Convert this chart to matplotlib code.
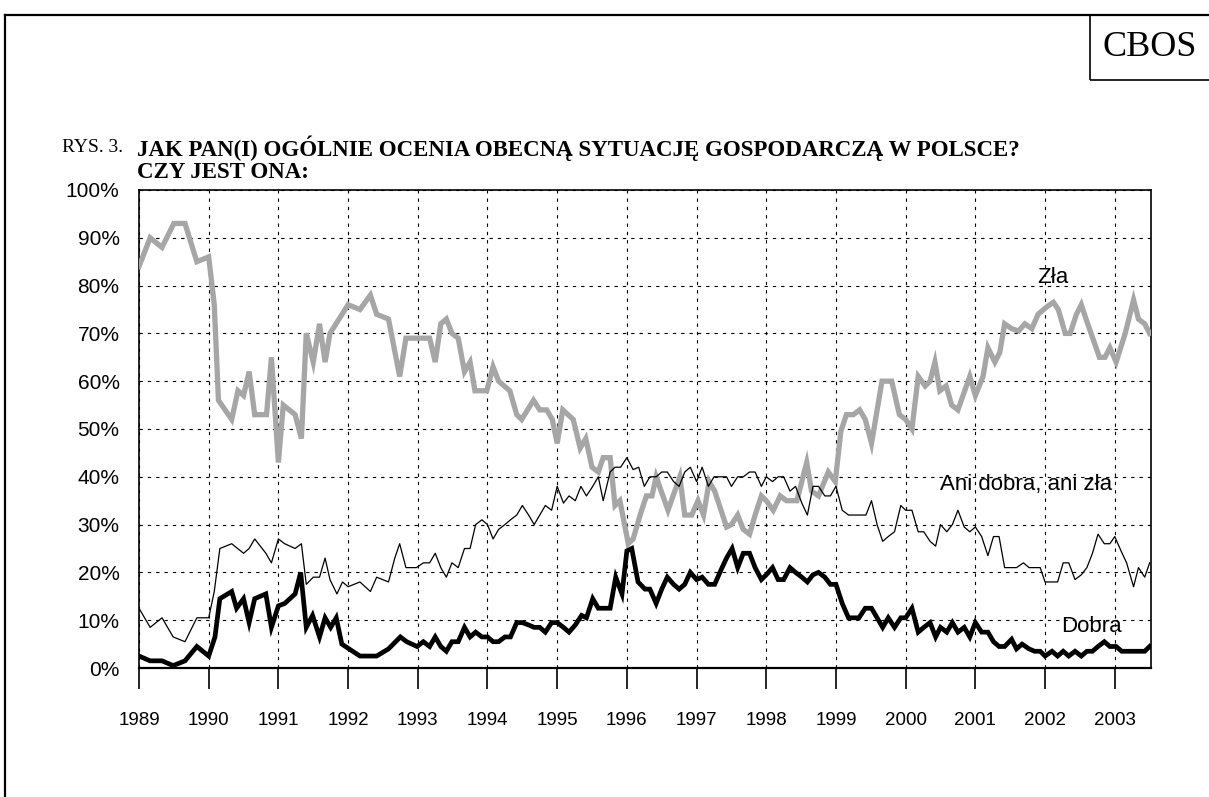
import numpy as np
import matplotlib
matplotlib.use("Agg")
import matplotlib.pyplot as plt
from matplotlib.lines import Line2D
from matplotlib.patches import Rectangle

# dane (rok dziesietny, %)
zla_x = [1989.0, 1989.16, 1989.33, 1989.5, 1989.66, 1989.83, 1990.0, 1990.08, 1990.14,
         1990.33, 1990.42, 1990.5, 1990.58, 1990.66, 1990.83, 1990.9, 1991.0, 1991.07,
         1991.24, 1991.33, 1991.4, 1991.5, 1991.59, 1991.67, 1991.74, 1992.0, 1992.17,
         1992.32, 1992.41, 1992.58, 1992.74, 1992.83, 1993.17, 1993.25, 1993.33, 1993.41,
         1993.49, 1993.58, 1993.67, 1993.75, 1993.82, 1993.99, 1994.08, 1994.16, 1994.32,
         1994.42, 1994.49, 1994.66, 1994.75, 1994.85, 1994.93, 1995.0, 1995.08, 1995.23,
         1995.33, 1995.41, 1995.5, 1995.59, 1995.66, 1995.76, 1995.83, 1995.9, 1996.02,
         1996.09, 1996.19, 1996.28, 1996.36, 1996.42, 1996.59, 1996.76, 1996.83, 1996.93,
         1997.02, 1997.1, 1997.18, 1997.26, 1997.43, 1997.5, 1997.59, 1997.67, 1997.76,
         1997.84, 1997.93, 1998.0, 1998.1, 1998.2, 1998.29, 1998.44, 1998.58, 1998.65,
         1998.75, 1998.89, 1998.99, 1999.07, 1999.15, 1999.25, 1999.34, 1999.42, 1999.51,
         1999.66, 1999.8, 1999.91, 2000.0, 2000.09, 2000.18, 2000.28, 2000.35, 2000.42,
         2000.49, 2000.58, 2000.66, 2000.75, 2000.92, 2001.0, 2001.11, 2001.18, 2001.28,
         2001.35, 2001.42, 2001.52, 2001.62, 2001.71, 2001.81, 2001.9, 2002.02, 2002.12,
         2002.19, 2002.29, 2002.36, 2002.45, 2002.52, 2002.6, 2002.78, 2002.86, 2002.93,
         2003.02, 2003.15, 2003.27, 2003.34, 2003.43, 2003.5]
zla_y = [84, 90, 88, 93, 93, 85, 86, 76, 56,
         52, 58, 57, 62, 53, 53, 65, 43, 55,
         53, 48, 70, 64, 72, 64, 70, 76, 75,
         78, 74, 73, 61, 69, 69, 64, 72, 73,
         70, 69, 62, 64, 58, 58, 63, 60, 58,
         53, 52, 56, 54, 54, 52, 47, 54, 52,
         46, 48, 42, 41, 44, 44, 34, 35, 26,
         27, 32, 36, 36, 40, 33, 40, 32, 32,
         35, 32, 39, 37, 29.5, 30, 32, 29, 28,
         32, 36, 35, 33, 36, 35, 35, 43, 37,
         36, 41, 39, 49.5, 53, 53, 54, 52, 47,
         60, 60, 53, 52, 50, 61, 59, 60, 64,
         58, 59, 55, 54, 61, 57, 61, 67, 64,
         66, 72, 71, 70.5, 72, 71, 74, 75.5, 76.5,
         75, 70, 70, 74, 76, 72.5, 65, 65, 67,
         64, 70, 77, 73, 72, 70]

ani_x = [1989.0, 1989.16, 1989.33, 1989.49, 1989.66, 1989.83, 1990.0, 1990.08, 1990.16,
         1990.33, 1990.5, 1990.58, 1990.66, 1990.82, 1990.9, 1991.0, 1991.09, 1991.24,
         1991.33, 1991.4, 1991.5, 1991.59, 1991.67, 1991.74, 1991.84, 1991.92, 1992.0,
         1992.17, 1992.32, 1992.41, 1992.58, 1992.67, 1992.74, 1992.83, 1992.98, 1993.08,
         1993.17, 1993.25, 1993.33, 1993.41, 1993.49, 1993.58, 1993.67, 1993.75, 1993.83,
         1993.92, 1994.0, 1994.08, 1994.16, 1994.25, 1994.33, 1994.42, 1994.5, 1994.59,
         1994.67, 1994.75, 1994.83, 1994.92, 1995.0, 1995.09, 1995.17, 1995.26, 1995.34,
         1995.42, 1995.51, 1995.59, 1995.66, 1995.76, 1995.83, 1995.91, 1996.0, 1996.09,
         1996.17, 1996.25, 1996.33, 1996.42, 1996.5, 1996.58, 1996.67, 1996.75, 1996.83,
         1996.91, 1997.0, 1997.08, 1997.17, 1997.25, 1997.43, 1997.5, 1997.59, 1997.67,
         1997.76, 1997.84, 1997.93, 1998.0, 1998.09, 1998.17, 1998.25, 1998.34, 1998.42,
         1998.51, 1998.59, 1998.67, 1998.75, 1998.84, 1998.92, 1999.0, 1999.09, 1999.18,
         1999.43, 1999.51, 1999.59, 1999.67, 1999.75, 1999.84, 1999.93, 2000.0, 2000.09,
         2000.18, 2000.26, 2000.35, 2000.43, 2000.5, 2000.59, 2000.67, 2000.75, 2000.84,
         2000.92, 2001.0, 2001.09, 2001.18, 2001.26, 2001.34, 2001.42, 2001.59, 2001.69,
         2001.77, 2001.93, 2002.0, 2002.18, 2002.26, 2002.34, 2002.43, 2002.52, 2002.6,
         2002.68, 2002.76, 2002.85, 2002.93, 2003.0, 2003.09, 2003.17, 2003.27, 2003.34,
         2003.43, 2003.5]
ani_y = [12.5, 8.5, 10.5, 6.5, 5.5, 10.5, 10.5, 16, 25,
         26, 24, 25, 27, 24, 22, 27, 26, 25,
         26, 17.5, 19, 19, 23, 18.5, 15.5, 18, 17,
         18, 16, 19, 18, 23, 26, 21, 21, 22,
         22, 24, 21, 19, 22, 21, 25, 25, 30,
         31, 30, 27, 29, 30, 31, 32, 34, 32,
         30, 32, 34, 33, 38, 34.5, 36, 35, 38,
         36, 38, 40, 35, 41, 42, 42, 44, 41.5,
         42, 38, 40, 40, 41, 41, 39, 38, 41,
         42, 39, 42, 38, 40, 40, 38, 40, 40,
         41, 41, 38, 40, 39, 40, 40, 37, 38,
         34.5, 32, 38, 38, 36, 36, 38, 33, 32,
         32, 35, 30, 26.5, 27.5, 28.5, 34, 33, 33,
         28.5, 28.5, 26.5, 25.5, 30, 28.5, 30, 33, 29.5,
         28.5, 29.5, 27.5, 23.5, 27.5, 27.5, 21, 21, 22,
         21, 21, 18, 18, 22, 22, 18.5, 19.5, 21,
         24, 28, 26, 26, 27.5, 24.5, 22, 17, 21,
         19, 22]

dobra_x = [1989.0, 1989.16, 1989.33, 1989.49, 1989.66, 1989.83, 1990.0, 1990.09, 1990.16,
           1990.33, 1990.4, 1990.5, 1990.58, 1990.66, 1990.82, 1990.9, 1991.0, 1991.09,
           1991.24, 1991.32, 1991.4, 1991.49, 1991.59, 1991.67, 1991.75, 1991.83, 1991.91,
           1992.17, 1992.41, 1992.58, 1992.75, 1992.84, 1992.99, 1993.08, 1993.17, 1993.25,
           1993.33, 1993.41, 1993.49, 1993.58, 1993.67, 1993.75, 1993.83, 1993.92, 1994.0,
           1994.08, 1994.16, 1994.25, 1994.33, 1994.42, 1994.5, 1994.59, 1994.67, 1994.75,
           1994.83, 1994.92, 1995.0, 1995.09, 1995.17, 1995.26, 1995.35, 1995.42, 1995.51,
           1995.59, 1995.76, 1995.84, 1995.93, 1996.0, 1996.07, 1996.16, 1996.26, 1996.33,
           1996.42, 1996.5, 1996.58, 1996.67, 1996.75, 1996.83, 1996.91, 1997.0, 1997.08,
           1997.17, 1997.26, 1997.35, 1997.43, 1997.51, 1997.59, 1997.67, 1997.76, 1997.84,
           1997.93, 1998.0, 1998.09, 1998.17, 1998.25, 1998.34, 1998.42, 1998.51, 1998.59,
           1998.67, 1998.75, 1998.84, 1998.92, 1999.0, 1999.09, 1999.18, 1999.33, 1999.42,
           1999.51, 1999.59, 1999.67, 1999.75, 1999.84, 1999.93, 2000.0, 2000.09, 2000.18,
           2000.26, 2000.35, 2000.43, 2000.5, 2000.59, 2000.67, 2000.75, 2000.84, 2000.92,
           2001.0, 2001.09, 2001.18, 2001.26, 2001.34, 2001.42, 2001.52, 2001.59, 2001.67,
           2001.77, 2001.85, 2001.93, 2002.0, 2002.1, 2002.18, 2002.26, 2002.34, 2002.43,
           2002.52, 2002.6, 2002.68, 2002.76, 2002.85, 2002.93, 2003.02, 2003.1, 2003.43,
           2003.5]
dobra_y = [2.5, 1.5, 1.5, 0.5, 1.5, 4.5, 2.5, 6.5, 14.5,
           16, 12.5, 14.5, 9.5, 14.5, 15.5, 8.5, 13, 13.5,
           15.5, 20, 8.5, 11, 6.5, 10.5, 8.5, 10.5, 5,
           2.5, 2.5, 4, 6.5, 5.5, 4.5, 5.5, 4.5, 6.5,
           4.5, 3.5, 5.5, 5.5, 8.5, 6.5, 7.5, 6.5, 6.5,
           5.5, 5.5, 6.5, 6.5, 9.5, 9.5, 9, 8.5, 8.5,
           7.5, 9.5, 9.5, 8.5, 7.5, 9, 11, 10.5, 14.5,
           12.5, 12.5, 19, 15.5, 24.5, 25, 18, 16.5, 16.5,
           13.5, 16.5, 19, 17.5, 16.5, 17.5, 20, 18.5, 19,
           17.5, 17.5, 20.5, 23, 25, 21, 24, 24, 21,
           18.5, 19.5, 21, 18.5, 18.5, 21, 20, 19, 18,
           19.5, 20, 19, 17.5, 17.5, 13.5, 10.5, 10.5, 12.5,
           12.5, 10.5, 8.5, 10.5, 8.5, 10.5, 10.5, 12.5, 7.5,
           8.5, 9.5, 6.5, 8.5, 7.5, 9.5, 7.5, 8.5, 6.5,
           9.5, 7.5, 7.5, 5.5, 4.5, 4.5, 6, 4, 5,
           4, 3.5, 3.5, 2.5, 3.5, 2.5, 3.5, 2.5, 3.5,
           2.5, 3.5, 3.5, 4.5, 5.5, 4.5, 4.5, 3.5, 3.5,
           4.5]

lata = list(range(1989, 2004))
procenty = list(range(0, 101, 10))

sans = "Liberation Sans"
serif = "Liberation Serif"

fig = plt.figure(figsize=(12.09, 7.97), dpi=100)

# ramka zewnetrzna i pole CBOS
fig.add_artist(Line2D([5/1209, 5/1209], [0, 1 - 15/797], color="black", lw=1.6,
                      transform=fig.transFigure))
fig.add_artist(Line2D([5/1209, 1], [1 - 15/797, 1 - 15/797], color="black", lw=1.6,
                      transform=fig.transFigure))
fig.add_artist(Rectangle((1090/1209, 1 - 80/797), 0.2, 65/797, fill=False,
                         edgecolor="black", lw=1.2, transform=fig.transFigure))
fig.text(1150/1209, 1 - 48/797, "CBOS", fontfamily=serif, fontsize=26,
         ha="center", va="center")

fig.text(62/1209, 1 - 148/797, "RYS. 3.", fontfamily=serif, fontsize=14,
         ha="left", va="center")
fig.text(137/1209, 1 - 148/797,
         "JAK PAN(I) OGÓLNIE OCENIA OBECNĄ SYTUACJĘ GOSPODARCZĄ W POLSCE?",
         fontfamily=serif, fontsize=16.5, fontweight="bold", ha="left", va="center")
fig.text(137/1209, 1 - 173/797, "CZY JEST ONA:", fontfamily=serif, fontsize=16.5,
         fontweight="bold", ha="left", va="center")

ax = fig.add_axes([139/1209, 1 - 668/797, (1151 - 139)/1209, (668 - 190)/797])

ax.plot(zla_x, zla_y, color="#a6a6a6", lw=3.8, solid_joinstyle="miter", zorder=3)
ax.plot(ani_x, ani_y, color="black", lw=0.9, zorder=4)
ax.plot(dobra_x, dobra_y, color="black", lw=3.4, solid_joinstyle="miter", zorder=5)

ax.set_xlim(1989, 2003.52)
ax.set_ylim(0, 100)
ax.set_xticks(lata)
ax.set_xticklabels([str(r) for r in lata], fontfamily=sans, fontsize=13.5)
ax.set_yticks(procenty)
ax.set_yticklabels([f"{p}%" for p in procenty], fontfamily=sans, fontsize=15)
ax.tick_params(axis="x", direction="out", length=15, width=1.2, pad=17)
ax.tick_params(axis="y", length=0, pad=14)

ax.grid(True, color="black", lw=0.8, linestyle=(0, (3, 4.5)))
ax.set_axisbelow(True)
for s in ax.spines.values():
    s.set_linewidth(1.2)
ax.spines["bottom"].set_linewidth(1.6)

ax.text(2002.11, 81.6, "Zła", fontfamily=sans, fontsize=16, ha="center", va="center")
ax.text(2001.73, 38.3, "Ani dobra, ani zła", fontfamily=sans, fontsize=16,
        ha="center", va="center")
ax.text(2002.67, 8.6, "Dobra", fontfamily=sans, fontsize=16, ha="center", va="center")

fig.savefig("out.png", dpi=100)
